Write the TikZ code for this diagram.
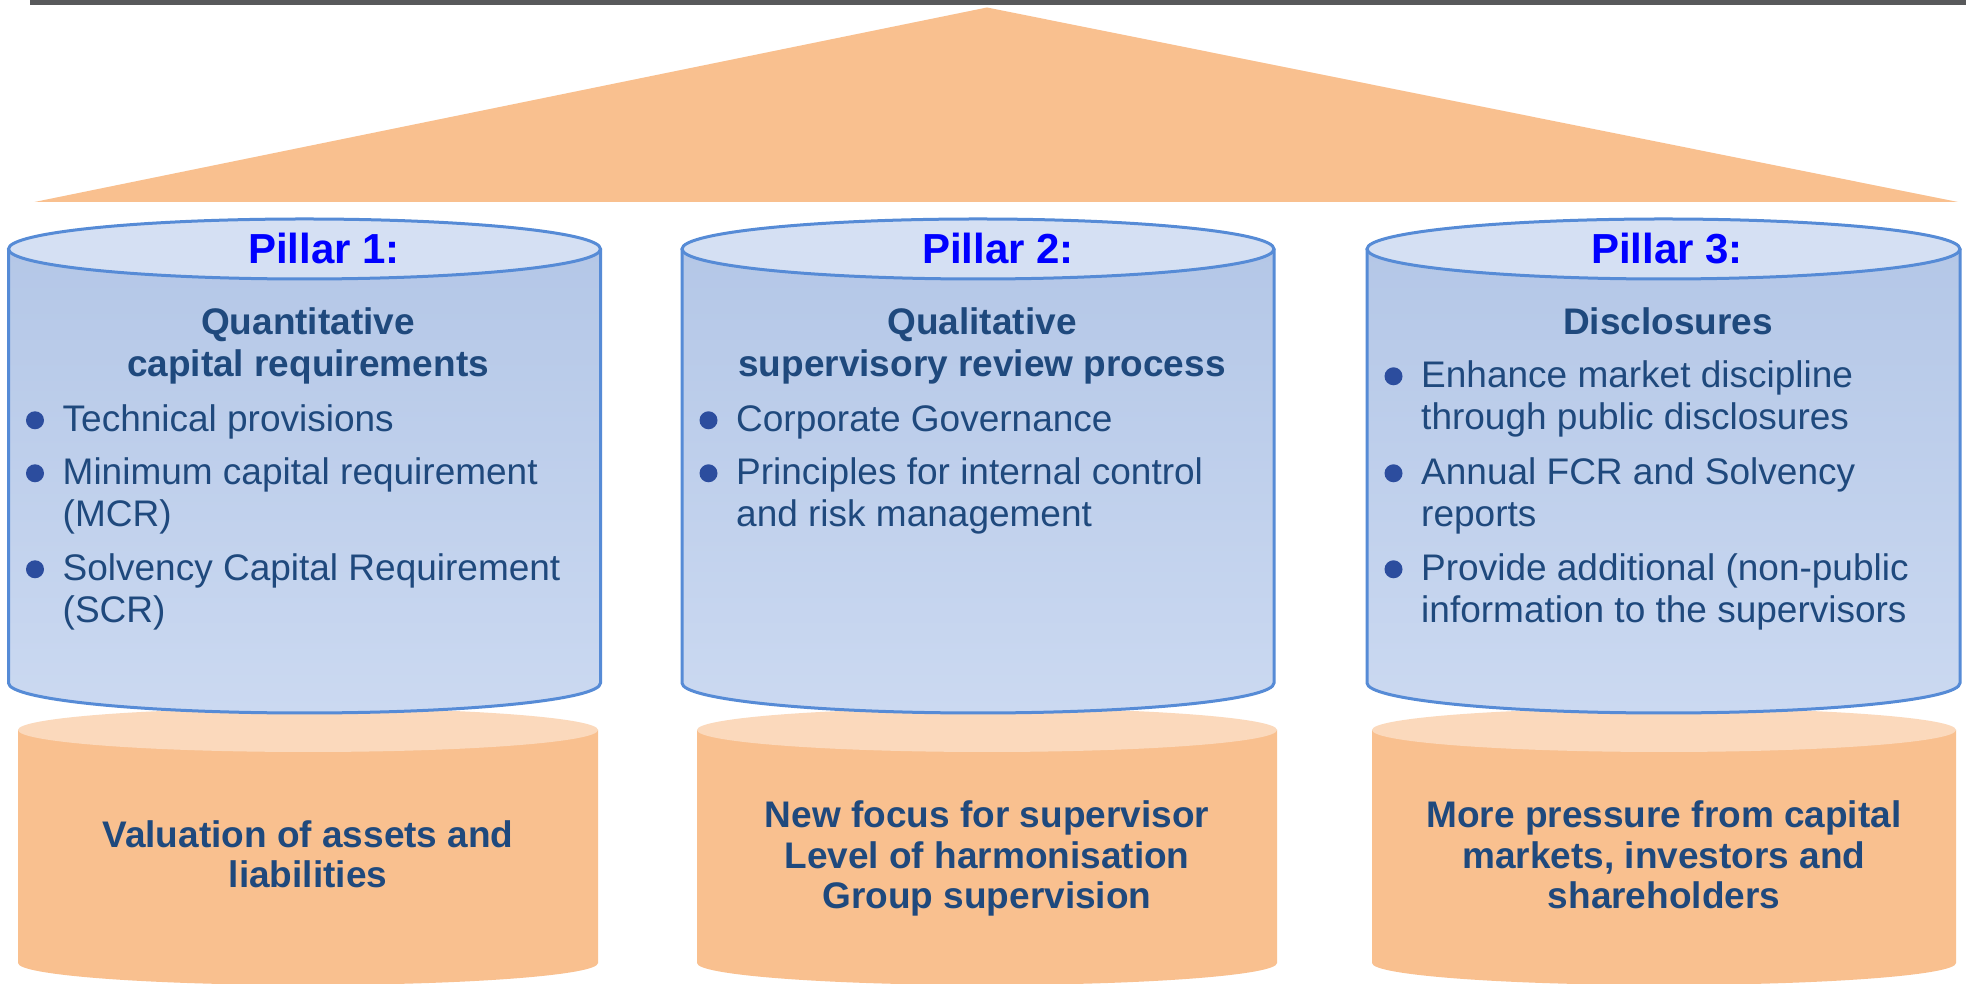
\documentclass[tikz,border=0pt]{standalone}
\usepackage{fontspec}
\setmainfont{Liberation Sans}
\usepackage{tikz}

\definecolor{barcolor}{RGB}{88,89,91}
\definecolor{roofcolor}{RGB}{249,192,143}
\definecolor{basecap}{RGB}{251,217,188}
\definecolor{pillartop}{RGB}{180,199,231}
\definecolor{pillarbottom}{RGB}{203,217,241}
\definecolor{pillarcap}{RGB}{213,224,243}
\definecolor{pillarline}{RGB}{86,139,214}
\definecolor{titleblue}{RGB}{0,0,255}
\definecolor{textblue}{RGB}{31,73,125}
\definecolor{dotblue}{RGB}{44,77,158}

\tikzset{
  pillartitle/.style={font=\fontsize{42}{48}\selectfont\bfseries, text=titleblue, anchor=base, inner sep=0pt},
  pillarhead/.style={font=\fontsize{37}{42}\selectfont\bfseries, text=textblue, align=center, anchor=base, inner sep=0pt},
  pillaritem/.style={font=\fontsize{37}{42}\selectfont, text=textblue, align=left, anchor=base west, inner sep=0pt},
  basetext/.style={font=\fontsize{37}{40.5}\selectfont\bfseries, text=textblue, align=center, anchor=base, inner sep=0pt},
  edge/.style={draw=pillarline, line width=3pt},
}

\begin{document}
\begin{tikzpicture}[x=1pt,y=1pt]
\useasboundingbox (0.000000, 0.000000) rectangle (1966.000000, 984.000000);
\fill[color=white] (0.000000, 0.000000) rectangle (1966.000000, 984.000000);
\clip (0.000000, 0.000000) rectangle (1966.000000, 984.000000);
% Drawing roof
\fill[color=barcolor] (30.000000, 979.000000) rectangle (1966.000000, 984.000000);
\fill[color=roofcolor] (34.500000, 782.000000) -- (987.000000, 976.500000) -- (1958.000000, 782.000000) -- cycle;
% Done with roof; drawing bases
% Base 1
\fill[color=roofcolor] (18.000000, 254.000000) -- (18.000000, 21.000000) arc[start angle=180, end angle=360, x radius=290, y radius=22] -- (598.000000, 254.000000) -- cycle;
\fill[color=basecap] (308.000000, 254.000000) ellipse [x radius=290, y radius=22];
% Base 2
\fill[color=roofcolor] (697.000000, 254.000000) -- (697.000000, 21.000000) arc[start angle=180, end angle=360, x radius=290, y radius=22] -- (1277.000000, 254.000000) -- cycle;
\fill[color=basecap] (987.000000, 254.000000) ellipse [x radius=290, y radius=22];
% Base 3
\fill[color=roofcolor] (1372.000000, 254.000000) -- (1372.000000, 21.000000) arc[start angle=180, end angle=360, x radius=292, y radius=22] -- (1956.000000, 254.000000) -- cycle;
\fill[color=basecap] (1664.000000, 254.000000) ellipse [x radius=292, y radius=22];
% Done with bases; drawing pillars
% Pillar 1
\shade[top color=pillartop, bottom color=pillarbottom] (8.500000, 735.000000) -- (8.500000, 301.000000) arc[start angle=180, end angle=360, x radius=296, y radius=30] -- (600.500000, 735.000000) -- cycle;
\draw[edge] (8.500000, 735.000000) -- (8.500000, 301.000000) arc[start angle=180, end angle=360, x radius=296, y radius=30] -- (600.500000, 735.000000);
\draw[edge, fill=pillarcap] (304.500000, 735.000000) ellipse [x radius=296, y radius=30];
% Pillar 2
\shade[top color=pillartop, bottom color=pillarbottom] (682.000000, 735.000000) -- (682.000000, 301.000000) arc[start angle=180, end angle=360, x radius=296, y radius=30] -- (1274.000000, 735.000000) -- cycle;
\draw[edge] (682.000000, 735.000000) -- (682.000000, 301.000000) arc[start angle=180, end angle=360, x radius=296, y radius=30] -- (1274.000000, 735.000000);
\draw[edge, fill=pillarcap] (978.000000, 735.000000) ellipse [x radius=296, y radius=30];
% Pillar 3
\shade[top color=pillartop, bottom color=pillarbottom] (1367.000000, 735.000000) -- (1367.000000, 301.000000) arc[start angle=180, end angle=360, x radius=296.5, y radius=30] -- (1960.000000, 735.000000) -- cycle;
\draw[edge] (1367.000000, 735.000000) -- (1367.000000, 301.000000) arc[start angle=180, end angle=360, x radius=296.5, y radius=30] -- (1960.000000, 735.000000);
\draw[edge, fill=pillarcap] (1663.500000, 735.000000) ellipse [x radius=296.5, y radius=30];
% Done with pillars; drawing pillar texts
% Pillar 1: quantitative
\node[pillartitle] (p1title) at (324.000000, 720.000000) {Pillar 1:};
\node[pillarhead] (p1head) at (308.000000, 607.000000) {Quantitative\\capital requirements};
\node[pillaritem] (p1i1) at (62.500000, 552.000000) {Technical provisions};
\node[pillaritem] (p1i2) at (62.500000, 457.000000) {Minimum capital requirement\\(MCR)};
\node[pillaritem] (p1i3) at (62.500000, 361.000000) {Solvency Capital Requirement\\(SCR)};
% Pillar 2: qualitative
\node[pillartitle] (p2title) at (998.000000, 720.000000) {Pillar 2:};
\node[pillarhead] (p2head) at (982.000000, 607.000000) {Qualitative\\supervisory review process};
\node[pillaritem] (p2i1) at (736.000000, 552.000000) {Corporate Governance};
\node[pillaritem] (p2i2) at (736.000000, 457.000000) {Principles for internal control\\and risk management};
% Pillar 3: disclosures
\node[pillartitle] (p3title) at (1667.000000, 720.000000) {Pillar 3:};
\node[pillarhead] (p3head) at (1668.000000, 649.000000) {Disclosures};
\node[pillaritem] (p3i1) at (1421.000000, 554.000000) {Enhance market discipline\\through public disclosures};
\node[pillaritem] (p3i2) at (1421.000000, 457.000000) {Annual FCR and Solvency\\reports};
\node[pillaritem] (p3i3) at (1421.000000, 361.000000) {Provide additional (non-public\\information to the supervisors};
% Bullets
\fill[color=dotblue] ([xshift=-27.500000pt, yshift=11.700000pt]p1i1.base west) circle (9pt);
\fill[color=dotblue] ([xshift=-27.500000pt, yshift=53.700000pt]p1i2.base west) circle (9pt);
\fill[color=dotblue] ([xshift=-27.500000pt, yshift=53.700000pt]p1i3.base west) circle (9pt);
\fill[color=dotblue] ([xshift=-27.500000pt, yshift=11.700000pt]p2i1.base west) circle (9pt);
\fill[color=dotblue] ([xshift=-27.500000pt, yshift=53.700000pt]p2i2.base west) circle (9pt);
\fill[color=dotblue] ([xshift=-27.500000pt, yshift=53.700000pt]p3i1.base west) circle (9pt);
\fill[color=dotblue] ([xshift=-27.500000pt, yshift=53.700000pt]p3i2.base west) circle (9pt);
\fill[color=dotblue] ([xshift=-27.500000pt, yshift=53.700000pt]p3i3.base west) circle (9pt);
% Done with pillar texts; drawing base texts
\node[basetext] (b1text) at (308.000000, 96.000000) {Valuation of assets and\\liabilities};
\node[basetext] (b2text) at (987.000000, 75.000000) {New focus for supervisor\\Level of harmonisation\\Group supervision};
\node[basetext] (b3text) at (1664.000000, 75.000000) {More pressure from capital\\markets, investors and\\shareholders};
% Done with base texts
\end{tikzpicture}
\end{document}
